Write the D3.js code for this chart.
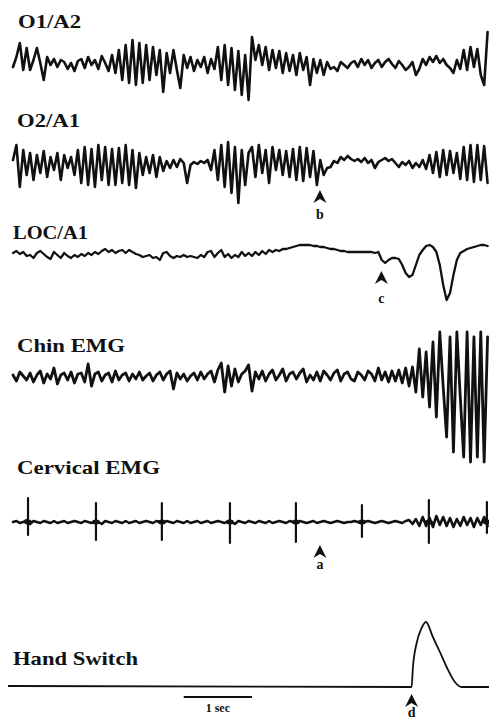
<!DOCTYPE html>
<html><head><meta charset="utf-8">
<script src="https://cdn.jsdelivr.net/npm/d3@7"></script>
<style>html,body{margin:0;padding:0;background:#fff;} svg{display:block;}</style>
</head><body>
<script>
// ---- DATA (time in seconds, sampled every 0.05 s; amplitude in display units, + = up) ----
const sampleStep = 0.05;
const traceNames = ["O1/A2", "O2/A1", "LOC/A1", "Chin EMG", "Cervical EMG", "Hand Switch"];

const o1A2 = [
 -2, 8, 22, -5, 17, -5, 5, 17, 2, -15,
 8, 0, 6, -2, 5, 3, -4, 2, -6, 4,
 6, -3, 8, 0, 5, -4, 9, 2, -6, 10,
 -8, 15, -15, 20, -18, 25, -20, 22, -18, 20,
 -15, 18, -10, 15, -27, 12, -8, 15, -5, -23,
 10, -3, 8, -6, 5, -2, 8, -8, 6, -4,
 18, -15, 20, -20, 17, -25, 14, -30, 10, -35,
 28, 5, 20, 0, 18, -5, 15, -3, 14, -8,
 12, -6, 10, -10, 12, -5, 8, -20, 6, -8,
 5, -10, 3, -4, -2, -6, 3, 0, -3, 2,
 4, -2, 6, 0, 5, -3, 2, 5, -2, 3,
 6, 1, -3, 4, 0, -5, -2, 3, -10, -4,
 6, 0, 8, 3, 9, 2, 6, 0, -3, -8,
 5, -4, 15, -5, 18, -2, 16, -10, -20, 33
];

const o2A1 = [
 5, 20, -22, 15, -10, 12, -15, 10, -8, 14,
 -12, 8, -5, 12, -15, 10, -3, 8, -10, 15,
 -18, 18, -20, 16, -22, 20, -15, 18, -20, 16,
 -20, 17, -18, 20, -20, 15, -23, 12, -10, 8,
 -8, 10, -12, 8, -6, 4, -3, 5, -2, 6,
 2, -18, 0, 3, 1, 4, 2, 5, -5, 15,
 -15, 20, -22, 23, -28, 18, -38, 15, -20, 12,
 18, -12, 20, -8, 15, -18, 18, -5, 15, -10,
 14, -12, 16, -15, 18, -16, 17, -12, 14, -20,
 5, -10, -3, -2, 4, 2, 8, 5, 9, 6,
 4, 6, 3, 7, 2, 5, -3, 3, 5, 7,
 4, 6, 2, -2, 3, 0, 4, -3, 2, -2,
 5, -4, 10, -8, 13, -12, 15, -10, 14, -8,
 12, -14, 18, -15, 20, -17, 20, -15, 19, -18
];

const locA1 = [
 2, 4, 1, 3, -1, 0, -3, 2, 4, 1,
 -2, -4, 3, 0, -3, 2, -1, -3, 0, -2,
 1, -1, 2, 0, 3, 1, 4, 6, 3, 5,
 2, 4, 5, 2, 5, 3, 1, 0, -2, -1,
 0, -3, -2, -5, 2, 3, -1, -3, -1, -2,
 0, -2, -1, -2, -3, 0, -2, 3, 4, -2,
 2, 5, -2, 1, -3, 0, -2, 3, -1, 2,
 -1, 3, 0, 4, 1, 5, 3, 5, 4, 6,
 6, 7, 8, 9, 10, 10, 10, 10, 9, 9,
 8, 8, 7, 6, 6, 5, 4, 4, 3, 3,
 3, 3, 3, 3, 3, 3, 2, 3, -5, -8,
 -5, -3, -3, -4, -10, -18, -22, -20, -10, 0,
 5, 9, 10, 8, 3, -10, -30, -45, -38, -20,
 -5, 2, 4, 6, 7, 8, 9, 10, 10, 9
];

const chinEMG = [
 2, -4, 5, 1, -3, 4, -5, 2, 6, -6,
 3, -2, 9, -7, 2, 4, -3, 5, -6, 3,
 4, -5, 13, -9, 3, 5, -4, 2, 4, -5,
 6, -3, 2, 4, -4, 3, -2, 5, -3, 1,
 4, -4, 2, 5, -3, 3, 6, -12, 4, -2,
 3, -4, 1, 4, -3, 5, -2, 3, 6, -5,
 7, 14, -15, 11, -9, 8, -5, 3, 6, 12,
 -14, 5, -2, 6, -4, 3, 7, -3, 2, 8,
 -4, 3, 5, -2, 4, 8, -5, 2, -3, 5,
 -4, 6, 2, -3, 4, 7, -4, 3, 5, -2,
 -4, 5, 2, -3, 6, 3, -4, 9, -3, 5,
 -5, 6, -4, 7, -6, 9, -9, 10, -15, 28,
 -20, 25, -30, 35, -40, 45, -10, -60, 40, -75,
 45, -20, -80, 45, -85, 40, -80, 45, -85, 40
];

const cervicalEMG = [
 0, 1, -1, 0, 2, -2, 1, 0, -1, 1,
 0, -1, 1, -1, 0, 1, -1, 0, 1, 0,
 -1, 1, 0, -1, 1, 0, -2, 1, 0, -1,
 1, 0, -1, 1, -1, 0, 1, -1, 0, 1,
 0, -1, 1, 0, -1, 1, 0, -1, 1, 0,
 -1, 1, -1, 0, 1, -1, 0, 1, -1, 0,
 1, 0, -1, 1, 0, -2, 1, 0, -1, 1,
 0, -1, 1, 0, -1, 1, -1, 0, 1, 0,
 -1, 1, 0, -1, 1, 0, -1, 0, 1, -1,
 0, 1, 0, -1, 0, 1, 0, -1, 0, 0,
 1, 0, -1, 0, 1, 0, -1, 0, 1, 0,
 -1, 0, 1, 0, -1, 1, 2, -2, 3, -4,
 5, -4, 4, -5, 6, -3, 5, -4, 4, -5,
 3, -4, 5, -3, 4, -5, 4, -3, 5, -4
];
const cervicalSpikeTimes = [0.22, 1.215, 2.18, 3.177, 4.143, 5.11, 6.09, 6.94];
const cervicalSpikeUp    = [24, 19, 19, 19, 19, 17, 22, 20];
const cervicalSpikeDown  = [-13, -18, -18, -21, -20, -15, -21, -11];

const handTimes  = [-0.073, 5.837, 5.857, 5.911, 5.984, 6.047, 6.149, 6.252, 6.35, 6.471, 6.57, 6.97];
const handValues = [1, 0, 20, 44, 59, 65, 50, 35, 20, 5, 0, 0];

const markerNames  = ["b", "c", "a", "d"];
const markerTimes  = [4.495, 5.395, 4.495, 5.837];
const markerTraces = [1, 2, 4, 5];

const scaleBarStart = 2.5, scaleBarEnd = 3.5, scaleBarLabel = "1 sec";

// ---- LAYOUT ----
const W = 489, H = 721;
const svg = d3.select("body").append("svg").attr("width", W).attr("height", H);
const x = d3.scaleLinear().domain([0, 7]).range([13, 491]);
const yFor = base => d3.scaleLinear().domain([-100, 100]).range([base + 100, base - 100]);

const traces = [
  {data: o1A2,     base: 65,  sw: 2.6, curve: d3.curveLinear, lx: 18, ly: 28,  lw: 63},
  {data: o2A1,     base: 165, sw: 2.6, curve: d3.curveLinear, lx: 17, ly: 127, lw: 63},
  {data: locA1,    base: 255, sw: 2.3, curve: d3.curveLinear, lx: 13, ly: 239, lw: 75},
  {data: chinEMG,  base: 377, sw: 2.8, curve: d3.curveLinear, lx: 17, ly: 352, lw: 108},
  {data: cervicalEMG, base: 522, sw: 2.6, curve: d3.curveLinear, lx: 17, ly: 474, lw: 143},
  {data: null,     base: 687, sw: 1.8, curve: d3.curveMonotoneX, lx: 13, ly: 665, lw: 125}
];

const ink = "#111";

traces.forEach((tr, k) => {
  const y = yFor(tr.base);
  svg.append("text")
    .attr("x", tr.lx).attr("y", tr.ly)
    .attr("font-family", "'Liberation Serif', 'Times New Roman', serif")
    .attr("font-weight", "bold").attr("font-size", 19)
    .attr("textLength", tr.lw).attr("lengthAdjust", "spacingAndGlyphs")
    .attr("fill", ink)
    .text(traceNames[k]);

  if (tr.data) {
    const line = d3.line().x((d, i) => x(i * sampleStep)).y(d => y(d)).curve(tr.curve);
    svg.append("path").attr("d", line(tr.data))
      .attr("fill", "none").attr("stroke", ink).attr("stroke-width", tr.sw)
      .attr("stroke-linejoin", "round").attr("stroke-linecap", "round");
  } else {
    const line = d3.line().x((d, i) => x(handTimes[i])).y(d => y(d)).curve(tr.curve);
    svg.append("path").attr("d", line(handValues))
      .attr("fill", "none").attr("stroke", ink).attr("stroke-width", tr.sw)
      .attr("stroke-linejoin", "round");
  }
});

// cervical spikes
{
  const y = yFor(traces[4].base);
  cervicalSpikeTimes.forEach((t, i) => {
    svg.append("line")
      .attr("x1", x(t)).attr("x2", x(t))
      .attr("y1", y(cervicalSpikeUp[i])).attr("y2", y(cervicalSpikeDown[i]))
      .attr("stroke", ink).attr("stroke-width", 2.2).attr("stroke-linecap", "round");
    svg.append("ellipse")
      .attr("cx", x(t)).attr("cy", y(0)).attr("rx", 4).attr("ry", 2.5).attr("fill", ink);
  });
}

// markers
const markerTip = [190, 271, 545, 694];
const markerLabelY = [219, 303, 569, 717];
markerNames.forEach((m, i) => {
  const cx = x(markerTimes[i]);
  const ty = markerTip[i];
  svg.append("path")
    .attr("d", `M${cx},${ty} L${cx + 6.5},${ty + 13} L${cx},${ty + 9} L${cx - 6.5},${ty + 13} Z`)
    .attr("fill", ink);
  svg.append("text")
    .attr("x", cx).attr("y", markerLabelY[i])
    .attr("text-anchor", "middle")
    .attr("font-family", "'Liberation Serif', serif").attr("font-weight", "bold")
    .attr("font-size", 14).attr("fill", ink)
    .text(m);
});

// scale bar
svg.append("line")
  .attr("x1", x(scaleBarStart)).attr("x2", x(scaleBarEnd))
  .attr("y1", 697).attr("y2", 697)
  .attr("stroke", ink).attr("stroke-width", 2);
svg.append("text")
  .attr("x", (x(scaleBarStart) + x(scaleBarEnd)) / 2).attr("y", 712)
  .attr("text-anchor", "middle")
  .attr("font-family", "'Liberation Serif', serif").attr("font-weight", "bold")
  .attr("font-size", 12).attr("fill", ink)
  .text(scaleBarLabel);
</script>
</body></html>
